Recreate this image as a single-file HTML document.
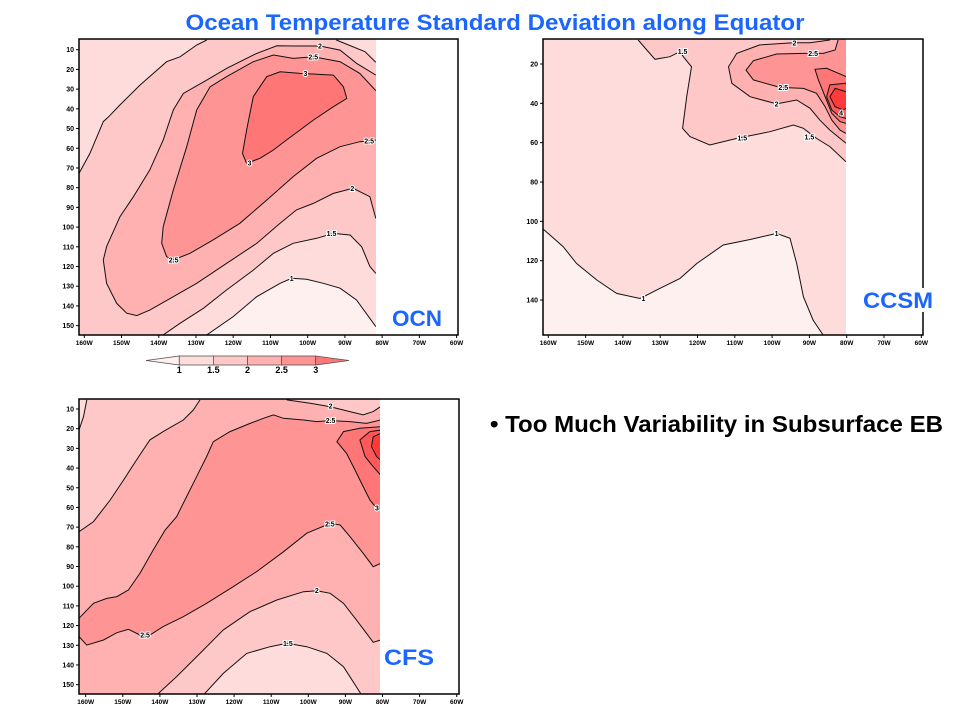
<!DOCTYPE html>
<html><head><meta charset="utf-8"><style>
html,body{margin:0;padding:0;background:#fff;}
svg{display:block;font-family:"Liberation Sans",Arial,sans-serif;}
</style></head><body>
<svg id="root" width="960" height="720" viewBox="0 0 960 720" xmlns="http://www.w3.org/2000/svg">
<text x="495" y="30" text-anchor="middle" font-size="22" font-weight="bold" fill="#1a66ff" textLength="619" lengthAdjust="spacingAndGlyphs">Ocean Temperature Standard Deviation along Equator</text>
<text x="490" y="432" font-size="23" font-weight="bold" fill="#000" textLength="453" lengthAdjust="spacingAndGlyphs">• Too Much Variability in Subsurface EB</text>
<g id="panels"></g>
</svg>
<script>
// level colours: <1, 1-1.5, 1.5-2, 2-2.5, 2.5-3, 3-3.5, 3.5-4, >4
const levelColors = ["#fff0f0","#ffdcdc","#ffc8c8","#ffb1b1","#ff9494","#ff7676","#ff5858","#ff3a3a"];
const colorbarLabels = ["1","1.5","2","2.5","3"];
const lonTicks = [160,150,140,130,120,110,100,90,80,70,60];

// ---- OCN contours: [lon(deg W), depth(m)] ----
const ocnL15a = [[161.4,72.7],[158.5,62.6],[154.9,46.5],[153.6,44.3],[150.4,38],[145,27.9],[137.9,16.1],[134.3,13.6],[129.8,7.6],[127.1,5.1]];
const ocnL15b = [[92.3,5.1],[84.6,11],[81.7,16.4]];
const ocnL15c = [[138.8,154.7],[134.3,148.8],[128,141.2],[121.8,131.9],[114.6,121.8],[109.2,113.3],[103.9,108.2],[97.6,105.7],[93.1,103.2],[88.6,104],[85.5,110],[83.3,120],[81.7,123.5]];
const ocnL1 = [[127.1,154.7],[120,145.4],[113.7,135.3],[107.4,128.5],[104.3,126],[100.3,126.5],[95.8,128.5],[91.3,131],[86.9,137],[81.7,150.5]];
const ocnL2 = [[81.7,95.6],[83.3,84.6],[87.8,80.3],[93.1,82.9],[98.5,88],[103,91.3],[107.4,98.1],[113.7,108.3],[121.8,118.4],[129.8,128.5],[136.1,135.3],[142.4,142.1],[145.9,144.9],[148.6,143.7],[151.3,138.7],[154,128.5],[154.9,116.7],[154,109.9],[150.4,94.7],[146.8,84.6],[142.4,71],[138.8,55.8],[136.1,40.6],[133.4,32.2],[127.1,25.4],[121.8,19.5],[113.7,11.9],[108.3,8],[103.9,8.1],[96.7,8.1],[91.3,10.2],[86.9,16.9],[81.7,22.9]];
const ocnL25 = [[81.7,30.8],[86,22],[91.3,16.1],[98.5,13.6],[103.9,14.4],[109.2,12.7],[114.6,16.1],[121.8,23.7],[126.2,28.8],[129.8,40.6],[132.5,59.2],[136.1,81.2],[138.8,99.8],[139.2,108.2],[137.9,115],[136.1,116.7],[131.6,113.3],[125.4,106.5],[118.2,98.1],[111,86.3],[103.9,74.4],[97.6,65.1],[91.3,59.2],[86,56.7],[81.7,55.8]];
const ocnL3 = [[116.4,67.7],[117.5,62.6],[116.4,50.8],[114.6,33.8],[111,23.7],[107.4,21.2],[102.1,22],[93.1,22.9],[90.4,28.8],[89.5,34.7],[93.1,38.9],[98.5,45.7],[102.1,50.8],[105.7,55.8],[109.2,60.9],[112.8,65.1],[116.4,67.7]];
const ocnLabels = [["2",96.7,8.1],["2.5",98.5,13.6],["3",100.6,22],["2.5",83.5,56.2],["3",115.6,67.5],["2",88,80.3],["1.5",93.6,103.3],["2.5",136,116.7],["1",104.3,126]];

// ---- CCSM contours ----
const ccsmL1 = [[161.3,104.1],[159.6,106.9],[156,112.9],[152.4,121.4],[147,129.8],[141.7,136.6],[135.4,139.2],[130.1,134.1],[124.7,129],[120.2,121.4],[113.1,112],[105.9,109.2],[98.8,106.1],[95.2,108.6],[93.4,121.4],[91.6,138.3],[89,150.2],[86.3,157.8]];
const ccsmL15 = [[135.9,7.8],[133.6,12.9],[131.4,17.6],[127.4,16.3],[124.7,13.7],[123.8,16.3],[121.6,21.4],[122.9,36.6],[124,52.7],[122,56.9],[116.7,61.2],[109.5,57.8],[100.6,54.4],[94.3,51],[91.6,52.7],[88.1,57.8],[84.5,62],[80.2,69.7]];
const ccsmL2 = [[84.5,7.8],[89.8,9.2],[94.3,9.2],[103.3,10.3],[109.5,14.6],[111.7,21.4],[110.8,29.8],[105.9,36.6],[98.8,40.3],[93.4,38.3],[89.8,42.5],[87.2,48.5],[84.5,53.6],[80.2,60.3]];
const ccsmL25 = [[82.3,7.8],[83.1,12.9],[86.3,14.6],[91.6,14.6],[98.8,14.9],[105,18.3],[107,23.1],[105,28.1],[97.9,31.9],[91.6,32.4],[88.1,34.9],[85.8,41.7],[84,48.5],[81.8,53.6],[80.2,55.3]];
const ccsmL3 = [[80.2,26.4],[85.4,22.2],[88.5,22.7],[87.6,28.1],[85.8,36.6],[84,45.1],[81.8,49.3],[80.2,50.2]];
const ccsmL35 = [[80.2,29.8],[84.5,30.6],[85.4,36.6],[84,43.4],[81.8,46.8],[80.2,47.7]];
const ccsmL4 = [[80.2,34.1],[83.1,32.4],[84.5,36.6],[83.1,41.7],[80.9,43.4],[80.2,42.5]];
const ccsmLabels = [["2",94,9.2],["1.5",124,13.7],["2.5",89,14.6],["2.5",97,31.9],["2",98.8,40.3],["4",81.5,45],["1.5",108,57.5],["1.5",90,57],["1",98.8,106.1],["1",134.5,139.2]];

// ---- CFS contours ----
const cfsL1a = [[161.8,20.7],[160.6,13.9],[159.7,5.4]];
const cfsL15a = [[161.8,72.3],[157.9,67.2],[153.4,56.2],[149.8,46.1],[146.3,35.9],[142.7,25.7],[139.1,21.5],[133.7,15.6],[131,10.5],[129.2,5.4]];
const cfsL2a = [[105.8,5.4],[99.5,7.1],[94.2,8.8],[88.8,11.3],[85.2,13],[82.5,11.3],[80.5,8.8]];
const cfsL2b = [[140.9,155.3],[135.5,145.9],[129.2,134.1],[122.9,122.2],[115.7,112.9],[108.5,107],[101.3,102.8],[97.7,102.3],[94.1,103.6],[90.5,108.7],[87,117.2],[84.3,123.9],[82.5,128.5],[80.5,127.3]];
const cfsL15b = [[128.3,155.3],[122.9,144.3],[116.6,134.1],[110.3,130.7],[105.8,129],[100.4,130.7],[95,134.1],[90.5,140.9],[85.6,155.3]];
const cfsL25lo = [[161.8,125.6],[159.7,129.9],[155.2,127.3],[151.6,123.6],[148.5,121.9],[145.4,124.8],[142.7,124.8],[139.1,120.5],[133.7,115.5],[127.4,108.7],[120.2,100.2],[113.9,92.6],[106.7,82.5],[100.4,73.1],[94.1,68.1],[91.4,68.9],[88.8,74.8],[85.2,83.3],[82.5,90.1],[80.5,88.4]];
const cfsL25up = [[161.8,116.3],[157.9,108.7],[154.3,106.2],[151.6,105.3],[148.5,101.9],[145.4,93.5],[141.8,81.6],[138.6,71.5],[135.5,64.7],[132.8,54.5],[130.1,44.4],[127.4,34.2],[125.6,26.6],[121.1,21.5],[115.7,17.3],[112.1,14.7],[109.4,13],[106.7,14.7],[101.3,15.6],[97.7,16.4],[94.1,15.9],[88.8,16.4],[84.3,17.3],[80.5,15.6]];
const cfsL3 = [[80.5,19],[86.1,19.8],[90.5,21.5],[92.3,26.6],[89.7,32.5],[87.4,41],[85.2,49.4],[83.4,56.2],[81.6,60.4],[80.5,60.4]];
const cfsL35 = [[80.5,20.7],[83.4,21.5],[86.1,25.7],[84.7,34.2],[82.5,39.3],[80.5,43.5]];
const cfsL4 = [[80.5,22.4],[82.5,24.1],[83,29.1],[81.6,34.2],[80.5,35.9]];
const cfsLabels = [["2",94,8.6],["2.5",94,15.9],["3",81.5,60.4],["2.5",94.2,68.3],["2",97.7,102.3],["2.5",144,124.8],["1.5",105.5,129]];

const NS = "http://www.w3.org/2000/svg";
const panelsG = document.getElementById("panels");
function mk(tag, attrs, parent){const e=document.createElementNS(NS,tag);for(const k in attrs)e.setAttribute(k,attrs[k]);(parent||panelsG).appendChild(e);return e;}

const panels = [
 {name:"ocn", title:"OCN", frame:[79,39,458,335], fillRight:376, x160:84.3, kx:3.723, yRef:49.7, dRef:10, ky:1.971,
  yTicks:[10,20,30,40,50,60,70,80,90,100,110,120,130,140,150], bg:2,
  regions:[
   {lv:1, line:ocnL15a, close:[[170,0],[170,72.7]]},
   {lv:1, line:ocnL15b, close:[[70,16.4],[70,0]]},
   {lv:1, line:ocnL15c, close:[[70,123.5],[70,170],[170,170]]},
   {lv:0, line:ocnL1, close:[[70,150.5],[70,170],[170,170]]},
   {lv:3, line:ocnL2, close:[[70,22.9],[70,95.6]]},
   {lv:4, line:ocnL25, close:[[70,55.8],[70,30.8]]},
   {lv:5, line:ocnL3, close:[]}],
  labels:ocnLabels, tag:[392,326,50]},
 {name:"ccsm", title:"CCSM", frame:[543,39,923,335], fillRight:846, x160:548.3, kx:3.73, yRef:64, dRef:20, ky:1.967,
  yTicks:[20,40,60,80,100,120,140], bg:1,
  regions:[
   {lv:0, line:ccsmL1, close:[[86.3,170],[170,170],[170,104.1]]},
   {lv:2, line:ccsmL15, close:[[70,69.7],[70,0],[135.9,0]]},
   {lv:3, line:ccsmL2, close:[[70,60.3],[70,0],[84.5,0]]},
   {lv:4, line:ccsmL25, close:[[70,55.3],[70,0],[82.3,0]]},
   {lv:5, line:ccsmL3, close:[[70,50.2],[70,26.4]]},
   {lv:6, line:ccsmL35, close:[[70,47.7],[70,29.8]]},
   {lv:7, line:ccsmL4, close:[[70,42.5],[70,34.1]]}],
  labels:ccsmLabels, tag:[863,308,70]},
 {name:"cfs", title:"CFS", frame:[79,399,459,694], fillRight:380, x160:85.7, kx:3.71, yRef:409, dRef:10, ky:1.969,
  yTicks:[10,20,30,40,50,60,70,80,90,100,110,120,130,140,150], bg:3,
  regions:[
   {lv:2, line:cfsL15a, close:[[129.2,0],[170,0],[170,72.3]]},
   {lv:1, line:cfsL1a, close:[[159.7,0],[170,0],[170,20.7]]},
   {lv:2, line:cfsL2a, close:[[70,8.8],[70,0],[105.8,0]]},
   {lv:2, line:cfsL2b, close:[[70,127.3],[70,170],[140.9,170]]},
   {lv:1, line:cfsL15b, close:[[85.6,170],[128.3,170]]},
   {lv:4, line:cfsL25lo.concat([[70,88.4],[70,15.6]]).concat(cfsL25up.slice().reverse()), close:[], strokes:[cfsL25lo,cfsL25up]},
   {lv:5, line:cfsL3, close:[[70,60.4],[70,19]]},
   {lv:6, line:cfsL35, close:[[70,43.5],[70,20.7]]},
   {lv:7, line:cfsL4, close:[[70,35.9],[70,22.4]]}],
  labels:cfsLabels, tag:[384,665,50]}
];

panels.forEach((p,pi)=>{
  const X = lon => p.x160 + (160-lon)*p.kx;
  const Y = d => p.yRef + (d-p.dRef)*p.ky;
  const [fx0,fy0,fx1,fy1]=p.frame;
  const g = mk("g",{});
  
  
  const cp = mk("clipPath",{id:"clip"+pi},g);
  mk("rect",{x:fx0,y:fy0,width:p.fillRight-fx0,height:fy1-fy0},cp);
  const fg = mk("g",{"clip-path":"url(#clip"+pi+")"},g);
  const bgRect = mk("rect",{x:fx0,y:fy0,width:p.fillRight-fx0,height:fy1-fy0,fill:levelColors[p.bg]},fg);
  
  
  const toPts = arr => arr.map(q=>X(q[0]).toFixed(1)+","+Y(q[1]).toFixed(1)).join(" ");
  p.regions.forEach((r,ri)=>{
    const poly = mk("polygon",{points:toPts(r.line.concat(r.close)),fill:levelColors[r.lv]},fg);
    
    
  });
  // faint horizontal grid lines
  p.yTicks.forEach(t=>{ if(t%20===0||p.yTicks.length>8){} });
  p.regions.forEach((r,ri)=>{
    (r.strokes||[r.line]).forEach(s=>{
      const pl = mk("polyline",{points:toPts(s),fill:"none",stroke:"#111","stroke-width":1},fg);
      
      
    });
  });
  p.labels.forEach(l=>{
    const t = mk("text",{x:X(l[1]),y:Y(l[2])+2.5,"font-size":7,"font-weight":"bold","text-anchor":"middle",fill:"#000",stroke:"#fff","stroke-width":2,"paint-order":"stroke"},fg);
    t.textContent=l[0];
    
    
  });
  // frame
  const fr = mk("rect",{x:fx0,y:fy0,width:fx1-fx0,height:fy1-fy0,fill:"none",stroke:"#000","stroke-width":1.5},g);
  
  
  // y ticks
  p.yTicks.forEach(t=>{
    const y=Y(t);
    mk("line",{x1:fx0-3,x2:fx0,y1:y,y2:y,stroke:"#000","stroke-width":1},g);
    const tx=mk("text",{x:fx0-5,y:y+2.5,"font-size":7,"font-weight":"bold","text-anchor":"end",fill:"#000"},g);
    tx.textContent=t;
    
    
  });
  lonTicks.forEach(l=>{
    const x=X(l);
    mk("line",{x1:x,x2:x,y1:fy1,y2:fy1+3,stroke:"#000","stroke-width":1},g);
    const tx=mk("text",{x:x,y:fy1+10,"font-size":6.5,"font-weight":"bold","text-anchor":"middle",fill:"#000"},g);
    tx.textContent=l+"W";
    
    
  });
  // panel tag
  const [tx,ty,tw]=p.tag;
  mk("rect",{x:tx-3,y:ty-20,width:tw+6,height:24,fill:"#fff"},g);
  const tt=mk("text",{x:tx,y:ty,"font-size":22,"font-weight":"bold",fill:"#1a66ff",textLength:tw,lengthAdjust:"spacingAndGlyphs"},g);
  tt.textContent=p.title;
  
  
});

// colorbar
(function(){
  const cb = mk("g",{});
  
  
  const x0=179.3, w=34.1, y0=356, h=9;
  mk("polygon",{points:`146,${y0+h/2} ${x0},${y0} ${x0},${y0+h}`,fill:levelColors[0],stroke:"#555","stroke-width":0.8},cb);
  colorbarLabels.forEach((lab,i)=>{
    if(i<4){const r=mk("rect",{x:x0+i*w,y:y0,width:w,height:h,fill:levelColors[i+1],stroke:"#555","stroke-width":0.8},cb);
      
      }
    const t=mk("text",{x:x0+i*w,y:373,"font-size":9,"font-weight":"bold","text-anchor":"middle",fill:"#000"},cb);
    t.textContent=lab;
    
    
  });
  const xe=x0+4*w;
  mk("polygon",{points:`${xe},${y0} 349,${y0+h/2} ${xe},${y0+h}`,fill:levelColors[5],stroke:"#555","stroke-width":0.8},cb);
})();
</script>
</body></html>
